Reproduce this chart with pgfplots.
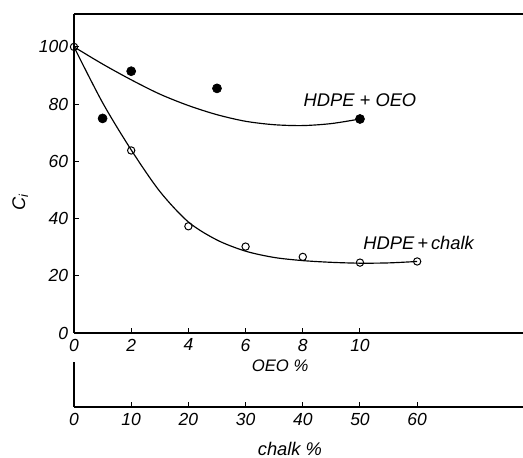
\documentclass[border=0pt]{standalone}
\usepackage{fontspec}
\setmainfont{Liberation Sans}
\usepackage{pgfplots}
\pgfplotsset{compat=1.18}

% measured points (x in OEO %, chalk % = 5 x)
\pgfplotstableread{
x y
1 75
2 91.5
5 85.5
10 74.8
}\oeo
\pgfplotstableread{
x y
0 100
2 63.8
4 37.3
6 30.2
8 26.6
10 24.6
12 25.0
}\chalk

\pgfplotsset{
  common/.style={
    scale only axis, width=269.4pt, xmin=0,
    every non boxed x axis/.style={},
    every non boxed y axis/.style={},
    axis line style={-, line width=0.7pt},
    tick style={line width=0.6pt, black},
    tick align=inside, major tick length=3pt,
    /pgf/number format/assume math mode=true,
    tick label style={font=\fontsize{10.5}{12}\selectfont\itshape},
    label style={font=\fontsize{11}{13}\selectfont\itshape},
  }
}

\begin{document}
\begin{tikzpicture}
\useasboundingbox (-44.4pt,-75pt) rectangle (269.4pt,199.8pt);

\begin{axis}[common,
    at={(0,0)}, anchor=south west,
    height=191.4pt,
    xmax=15.7, ymin=0, ymax=111.5,
    axis x line=box, axis y line=left,
    xtick={0,2,...,10}, ytick={0,20,...,100},
    xtick pos=bottom,
    xlabel={\itshape OEO \%},
    xlabel style={at={(axis description cs:0.459,0)}, anchor=center, yshift=-19.5pt},
    ylabel={\itshape C\textsubscript{i}},
    ylabel style={at={(axis description cs:-0.12,0.41)}, anchor=center},
    clip=false,
]
% fitted curves
\addplot[smooth, line width=0.7pt, black] coordinates {
  (0,100) (1,94) (2,88.5) (3,83.5) (4,79.5) (5,76.3) (6,74) (7,72.8) (8,72.5) (9,73.2) (10,74.8)
};
\addplot[smooth, line width=0.7pt, black] coordinates {
  (0,100) (1,80.5) (2,64) (3,49.5) (4,38.8) (5,32.5) (6,28.6) (7,26.4) (8,25.3) (9,24.7) (10,24.4) (11,24.5) (12,25)
};
\addplot[only marks, mark=*, mark size=2.7pt, black] table[x=x, y=y] {\oeo};
\addplot[only marks, mark=o, mark size=2.2pt, mark options={fill=white, line width=0.6pt}, black] table[x=x, y=y] {\chalk};

\node[font=\fontsize{11}{13}\selectfont\itshape] at (axis cs:10,81.5) {HDPE + OEO};
\node[font=\fontsize{11}{13}\selectfont\itshape] at (axis cs:12.05,31.5) {HDPE\,+\,chalk};
\end{axis}

\begin{axis}[common,
    at={(0,-44.4pt)}, anchor=south west,
    height=27pt,
    xmax=78.5, ymin=0, ymax=1,
    axis x line=bottom, axis y line=left,
    xtick={0,10,...,60}, ytick=\empty,
    xlabel={\itshape chalk \%},
    xlabel style={at={(axis description cs:0.481,0)}, anchor=base, yshift=-29pt},
]
\end{axis}
\end{tikzpicture}
\end{document}
